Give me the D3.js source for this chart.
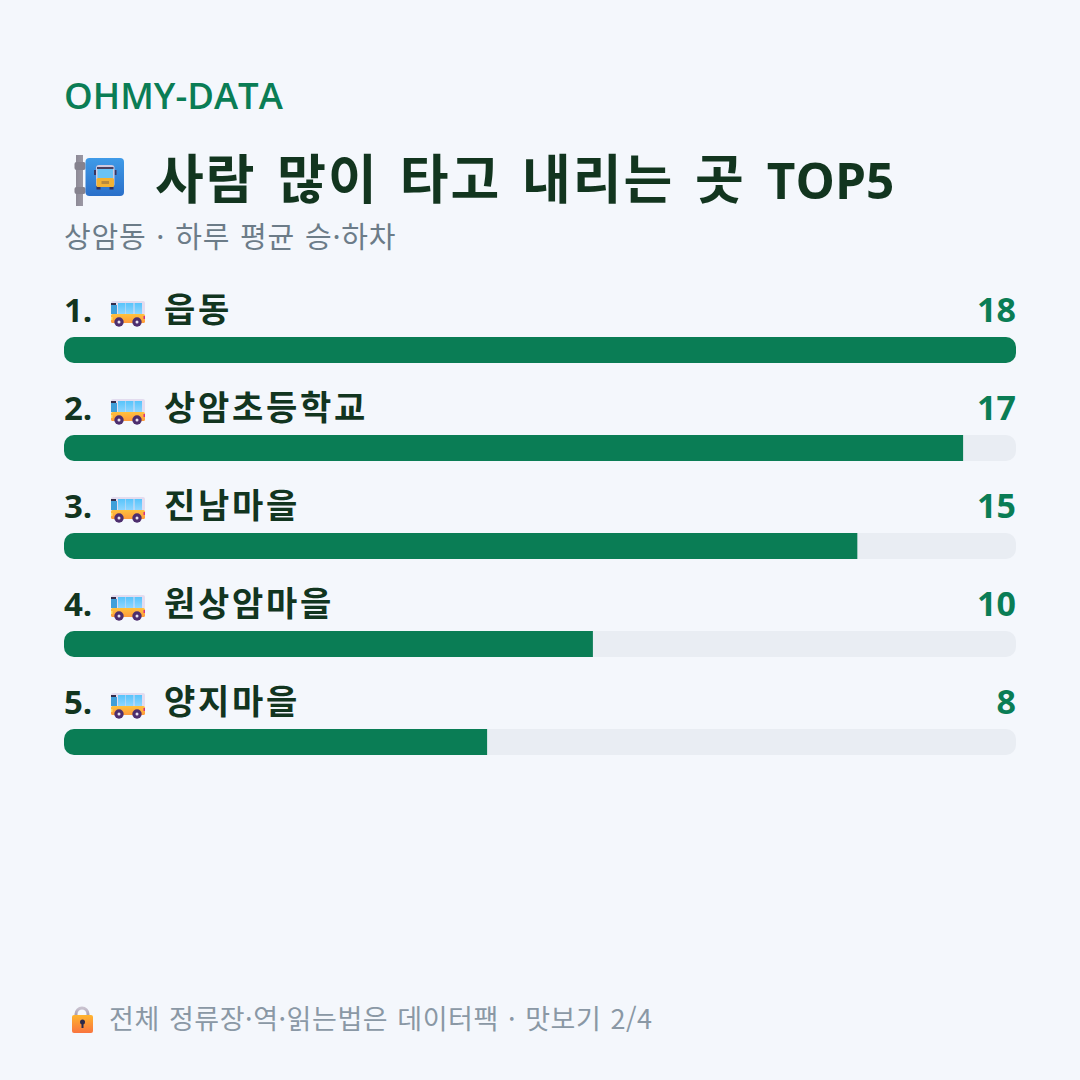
<!DOCTYPE html>
<html lang="ko">
<head>
<meta charset="utf-8">
<script src="https://cdn.jsdelivr.net/npm/d3@7"></script>
<style>
  html, body { margin: 0; padding: 0; background: #f4f7fc; }
  svg { display: block; }
  text { font-family: "Open Sans", "Noto Sans CJK KR", sans-serif; }
  .ko { font-family: "Noto Sans CJK KR", sans-serif; }
</style>
</head>
<body>
<div id="chart"></div>
<script>
const brand = "OHMY-DATA";
const titleKo = "사람 많이 타고 내리는 곳 ";
const titleEn = "TOP5";
const subtitle = "상암동 · 하루 평균 승·하차";
const footnote = "전체 정류장·역·읽는법은 데이터팩 · 맛보기 2/4";
const stops = ["읍동", "상암초등학교", "진남마을", "원상암마을", "양지마을"];
const riders = [18, 17, 15, 10, 8];

const W = 1080, H = 1080;
const green = "#0a7d55", ink = "#12351f", track = "#e9edf3";

const svg = d3.select("#chart").append("svg").attr("width", W).attr("height", H);
svg.append("rect").attr("width", W).attr("height", H).attr("fill", "#f4f7fc");
const defs = svg.append("defs");

function gradient(id, c0, c1, horizontal) {
  const g = defs.append("linearGradient").attr("id", id)
    .attr("x1", 0).attr("y1", 0).attr("x2", horizontal ? 1 : 0).attr("y2", horizontal ? 0 : 1);
  g.append("stop").attr("offset", 0).attr("stop-color", c0);
  g.append("stop").attr("offset", 1).attr("stop-color", c1);
}
gradient("signBlue", "#3f9be8", "#2a6fc9");
gradient("pole", "#8d8a96", "#9b98a4", true);
gradient("busBody", "#ffc23d", "#ff9a3c");
gradient("glass", "#57c4fb", "#8fd6ff");
gradient("lockBody", "#ffb52e", "#f9743f");
gradient("shackle", "#c9c2cf", "#a59bb0");

// Bus-stop sign: grey pole with two clamps and a blue panel holding a front-on bus
function busStopIcon(x, y) {
  const g = svg.append("g").attr("transform", `translate(${x},${y})`);
  g.append("rect").attr("x", 1.5).attr("y", 0).attr("width", 7).attr("height", 51).attr("fill", "url(#pole)");
  g.append("rect").attr("x", 0).attr("y", 7).attr("width", 11).attr("height", 8).attr("rx", 2).attr("fill", "#85828e");
  g.append("rect").attr("x", 0).attr("y", 32).attr("width", 11).attr("height", 7).attr("rx", 2).attr("fill", "#85828e");
  g.append("rect").attr("x", 11).attr("y", 3).attr("width", 38.5).attr("height", 38).attr("rx", 4).attr("fill", "url(#signBlue)");
  g.append("rect").attr("x", 22).attr("y", 31).attr("width", 4).attr("height", 3.5).attr("fill", "#33305a");
  g.append("rect").attr("x", 35).attr("y", 31).attr("width", 4).attr("height", 3.5).attr("fill", "#33305a");
  g.append("rect").attr("x", 19.5).attr("y", 15).attr("width", 2).attr("height", 5).attr("fill", "#3b3560");
  g.append("rect").attr("x", 40).attr("y", 15).attr("width", 2).attr("height", 5).attr("fill", "#3b3560");
  g.append("rect").attr("x", 21.5).attr("y", 10).attr("width", 18.5).attr("height", 22).attr("rx", 3).attr("fill", "#cfc9e0");
  g.append("rect").attr("x", 22.5).attr("y", 12).attr("width", 16.5).attr("height", 2).attr("fill", "#4a3f60");
  g.append("rect").attr("x", 23).attr("y", 14).attr("width", 15.5).attr("height", 9).attr("fill", "#69c3f6");
  g.append("rect").attr("x", 22).attr("y", 23).attr("width", 17.5).attr("height", 9).attr("rx", 1.5).attr("fill", "#f2b233");
  g.append("rect").attr("x", 27).attr("y", 26).attr("width", 7.5).attr("height", 3).attr("fill", "#b98a3a");
}

// Side-on bus: pale roof, sky-blue windows, orange lower body, purple wheels
function busIcon(x, y) {
  const g = svg.append("g").attr("transform", `translate(${x},${y})`);
  g.append("rect").attr("x", 0).attr("y", 0).attr("width", 34).attr("height", 14).attr("rx", 2).attr("fill", "#e3dcef");
  g.append("rect").attr("x", 0).attr("y", 13).attr("width", 34).attr("height", 9).attr("rx", 1.5).attr("fill", "url(#busBody)");
  g.append("rect").attr("x", 0).attr("y", 2).attr("width", 5).attr("height", 2).attr("fill", "#332c4a");
  g.append("rect").attr("x", 0).attr("y", 4).attr("width", 6).attr("height", 9).attr("fill", "#3f9fd9");
  g.selectAll(".pane").data([7, 15, 23.5]).join("rect")
    .attr("x", d => d).attr("y", 2).attr("width", 7.5).attr("height", 11).attr("fill", "url(#glass)");
  g.append("rect").attr("x", 32.5).attr("y", 15).attr("width", 1.5).attr("height", 3).attr("fill", "#d6307f");
  g.append("rect").attr("x", 0).attr("y", 16).attr("width", 1.5).attr("height", 3).attr("fill", "#ffe36b");
  g.selectAll(".wheel").data([8, 26]).join("circle")
    .attr("cx", d => d).attr("cy", 21).attr("r", 4.7).attr("fill", "#4d2e6e");
  g.selectAll(".hub").data([8, 26]).join("circle")
    .attr("cx", d => d).attr("cy", 21).attr("r", 1.5).attr("fill", "#e9e2ef");
}

// Padlock: pale shackle over an orange body with a dark keyhole
function lockIcon(x, y) {
  const g = svg.append("g").attr("transform", `translate(${x},${y})`);
  g.append("path").attr("d", "M5 9 V7 a6 6 0 0 1 12 0 V9")
    .attr("fill", "none").attr("stroke", "url(#shackle)").attr("stroke-width", 3);
  g.append("rect").attr("x", 1).attr("y", 8).attr("width", 21).attr("height", 18).attr("rx", 2).attr("fill", "url(#lockBody)");
  g.append("circle").attr("cx", 11.5).attr("cy", 15).attr("r", 2.5).attr("fill", "#2d2a4a");
  g.append("rect").attr("x", 10.5).attr("y", 15).attr("width", 2).attr("height", 6).attr("fill", "#2d2a4a");
}

svg.append("text").attr("x", 64).attr("y", 109)
  .attr("font-size", 36.5).attr("font-weight", 600).attr("fill", green).text(brand);

busStopIcon(74.5, 155);
const titleText = svg.append("text").attr("class", "ko").attr("x", 155).attr("y", 199)
  .attr("font-size", 53).attr("font-weight", 700).attr("fill", ink);
titleText.append("tspan").attr("letter-spacing", 1.9).attr("word-spacing", 4.3).text(titleKo);
titleText.append("tspan").attr("font-family", "Open Sans").attr("font-size", 49.5).text(titleEn);

svg.append("text").attr("class", "ko").attr("x", 64).attr("y", 248)
  .attr("font-size", 29).attr("font-weight", 400).attr("fill", "#6c7c88")
  .attr("letter-spacing", 0.8).attr("word-spacing", 1).text(subtitle);

const left = 64, right = 1016, rowStep = 98, barTop = 337, barH = 26;
const x = d3.scaleLinear().domain([0, d3.max(riders)]).range([0, right - left]);

const rows = svg.selectAll(".row")
  .data(stops.map((name, i) => ({ name, value: riders[i], i })))
  .join("g").attr("class", "row")
  .attr("transform", d => `translate(0,${barTop + d.i * rowStep})`);

rows.append("clipPath").attr("id", d => `clip${d.i}`)
  .append("rect").attr("x", left).attr("width", right - left).attr("height", barH).attr("rx", 10);
rows.append("rect").attr("x", left).attr("width", right - left).attr("height", barH)
  .attr("rx", 10).attr("fill", track);
rows.append("rect").attr("x", left).attr("height", barH)
  .attr("width", d => x(d.value)).attr("fill", green)
  .attr("clip-path", d => `url(#clip${d.i})`);

rows.append("text").attr("x", left).attr("y", -15.5)
  .attr("font-size", 33).attr("font-weight", 700).attr("fill", ink)
  .text(d => `${d.i + 1}.`);
rows.append("text").attr("class", "ko").attr("x", 164).attr("y", -15.5)
  .attr("font-size", 34).attr("font-weight", 700).attr("fill", ink)
  .attr("letter-spacing", 2.7)
  .text(d => d.name);
rows.append("text").attr("x", right).attr("y", -15.5).attr("text-anchor", "end")
  .attr("font-size", 34).attr("font-weight", 700).attr("fill", green)
  .text(d => d3.format("d")(d.value));
stops.forEach((_, i) => busIcon(111, 301 + i * rowStep));

lockIcon(71, 1007);
svg.append("text").attr("class", "ko").attr("x", 109).attr("y", 1029)
  .attr("font-size", 27).attr("fill", "#8a98a5")
  .attr("letter-spacing", 0.55).attr("word-spacing", 1).text(footnote);
</script>
</body>
</html>
